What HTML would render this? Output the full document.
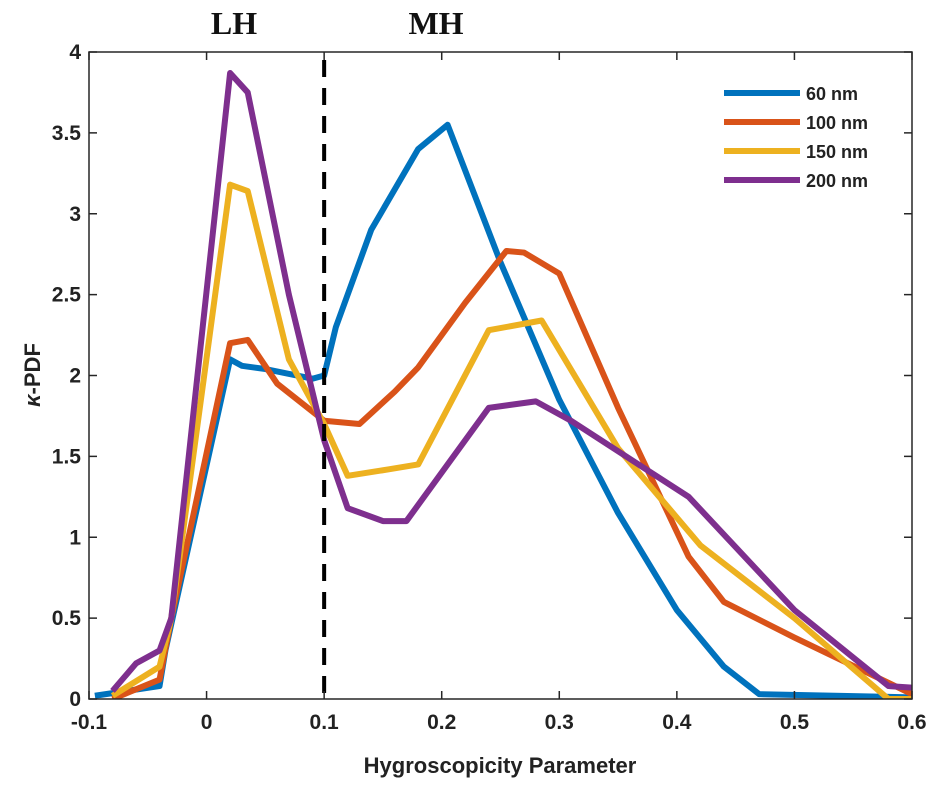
<!DOCTYPE html>
<html><head><meta charset="utf-8"><style>
body{margin:0;background:#fff;}
svg text{font-family:"Liberation Sans",sans-serif;font-weight:bold;fill:#222;}
</style></head><body>
<svg id="c" width="939" height="788" xmlns="http://www.w3.org/2000/svg"></svg>
<script>
const xTicks=[-0.1,0,0.1,0.2,0.3,0.4,0.5,0.6];
const yTicks=[0,0.5,1,1.5,2,2.5,3,3.5,4];
const seriesNames=["60 nm","100 nm","150 nm","200 nm"];
const seriesColors=["#0072BD","#D95319","#EDB120","#7E2F8E"];
const x60=[-0.095,-0.04,-0.035,0.02,0.03,0.05,0.09,0.1,0.11,0.14,0.18,0.205,0.25,0.3,0.35,0.4,0.44,0.47,0.6];
const y60=[0.02,0.08,0.3,2.1,2.06,2.04,1.98,2.0,2.3,2.9,3.4,3.55,2.7,1.85,1.15,0.55,0.2,0.03,0.01];
const x100=[-0.08,-0.04,-0.03,0.02,0.035,0.06,0.1,0.13,0.16,0.18,0.22,0.255,0.27,0.3,0.35,0.41,0.44,0.5,0.6];
const y100=[0.0,0.12,0.5,2.2,2.22,1.95,1.72,1.7,1.9,2.05,2.45,2.77,2.76,2.63,1.8,0.88,0.6,0.38,0.03];
const x150=[-0.08,-0.04,-0.03,0.02,0.035,0.07,0.1,0.12,0.155,0.18,0.24,0.285,0.35,0.42,0.5,0.58,0.6];
const y150=[0.02,0.2,0.5,3.18,3.14,2.1,1.7,1.38,1.42,1.45,2.28,2.34,1.55,0.95,0.5,0.0,0.0];
const x200=[-0.08,-0.06,-0.04,-0.03,0.02,0.035,0.07,0.1,0.12,0.15,0.17,0.24,0.28,0.31,0.41,0.5,0.58,0.6];
const y200=[0.05,0.22,0.3,0.5,3.87,3.75,2.5,1.6,1.18,1.1,1.1,1.8,1.84,1.72,1.25,0.55,0.08,0.07];
const seriesX=[x60,x100,x150,x200], seriesY=[y60,y100,y150,y200];

const L=89,R=912,T=52,B=699;
const sx=v=>L+(v+0.1)/0.7*(R-L);
const sy=v=>B-v/4*(B-T);
const svg=document.getElementById('c');
const NS="http://www.w3.org/2000/svg";
function mk(tag,attrs,parent){const e=document.createElementNS(NS,tag);for(const k in attrs)e.setAttribute(k,attrs[k]);(parent||svg).appendChild(e);return e;}

const clip=mk('clipPath',{id:'pc'});mk('rect',{x:L,y:T,width:R-L,height:B-T},clip);
seriesX.forEach((xs,i)=>{
  const p=mk('polyline',{points:xs.map((v,j)=>sx(v)+','+sy(seriesY[i][j])).join(' '),fill:'none',stroke:seriesColors[i],'stroke-width':6,'stroke-linejoin':'round','clip-path':'url(#pc)'});
  
  
});
const d=mk('line',{x1:sx(0.1),x2:sx(0.1),y1:T+8,y2:B,stroke:'#000','stroke-width':4,'stroke-dasharray':'17,11'});


const box=mk('rect',{x:L,y:T,width:R-L,height:B-T,fill:'none',stroke:'#262626','stroke-width':1.5});


xTicks.forEach(v=>{
  mk('line',{x1:sx(v),x2:sx(v),y1:B,y2:B-8,stroke:'#262626','stroke-width':1.5});
  mk('line',{x1:sx(v),x2:sx(v),y1:T,y2:T+8,stroke:'#262626','stroke-width':1.5});
  const t=mk('text',{x:sx(v),y:B+30,'text-anchor':'middle','font-size':21});
  t.textContent=String(v);
  
  
});
yTicks.forEach(v=>{
  mk('line',{x1:L,x2:L+8,y1:sy(v),y2:sy(v),stroke:'#262626','stroke-width':1.5});
  mk('line',{x1:R,x2:R-8,y1:sy(v),y2:sy(v),stroke:'#262626','stroke-width':1.5});
  const t=mk('text',{x:L-8,y:sy(v)+7,'text-anchor':'end','font-size':21});
  t.textContent=String(v);
  
  
});
seriesNames.forEach((n,i)=>{
  const yy=93+i*29;
  const l=mk('line',{x1:724,x2:800,y1:yy,y2:yy,stroke:seriesColors[i],'stroke-width':6});
  
  
  const t=mk('text',{x:806,y:yy+7,'font-size':18});
  t.textContent=n;
  
  
});
</script>
<svg width="939" height="788" style="position:absolute;left:0;top:0" xmlns="http://www.w3.org/2000/svg">
<text x="234" y="34" text-anchor="middle" style="font-family:'Liberation Serif',serif;font-weight:bold;font-size:32px;fill:#111">LH</text>
<text x="436" y="34" text-anchor="middle" style="font-family:'Liberation Serif',serif;font-weight:bold;font-size:32px;fill:#111">MH</text>
<text x="500" y="773" text-anchor="middle" style="font-family:'Liberation Sans',sans-serif;font-weight:bold;font-size:22px;fill:#222">Hygroscopicity Parameter</text>
<text x="0" y="0" transform="translate(40,375) rotate(-90)" text-anchor="middle" style="font-family:'Liberation Sans',sans-serif;font-weight:bold;font-size:22px;fill:#222"><tspan font-style="italic">κ</tspan>-PDF</text>
</svg>
</body></html>
